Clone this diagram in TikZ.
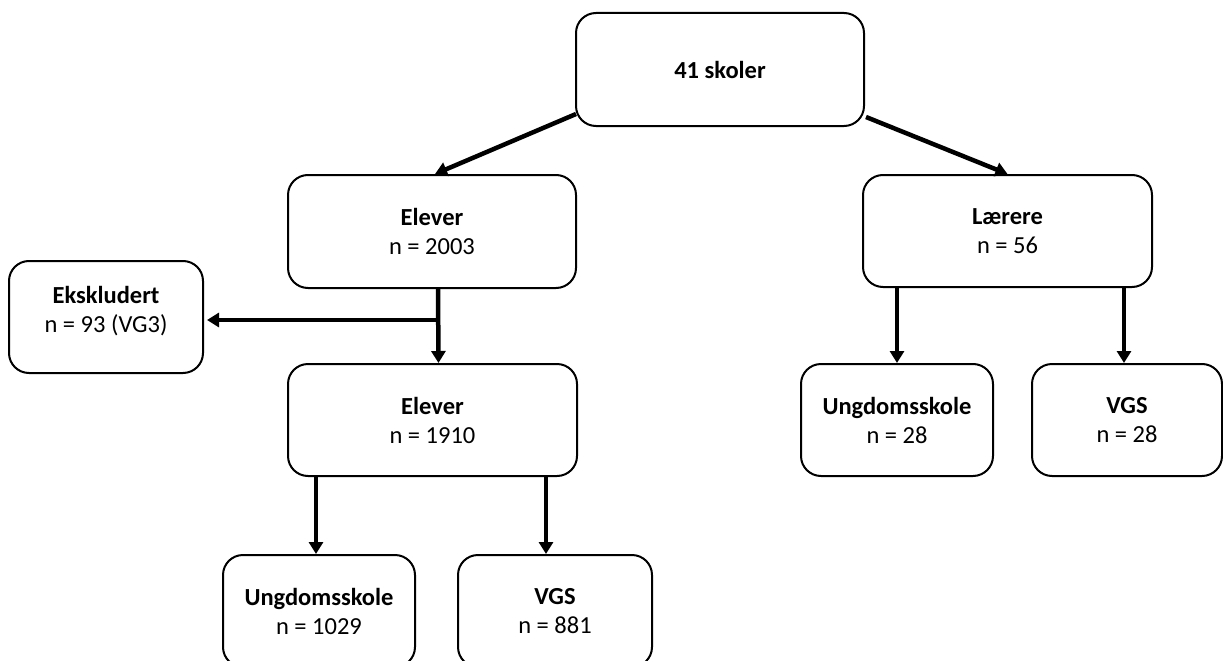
\documentclass[tikz,border=0pt]{standalone}
\usepackage{fontspec}
\setmainfont{Carlito}
\usetikzlibrary{arrows.meta,calc}
\begin{document}
\begin{tikzpicture}[x=1pt,y=-1pt,
  box/.style={draw, line width=2pt, rounded corners=20pt, align=center,
    font=\fontsize{24.5}{29}\selectfont, inner sep=0pt, fill=white},
  txt/.style={align=center, font=\fontsize{24.5}{29}\selectfont, inner sep=0pt},
  arr/.style={line width=4.5pt, -{Triangle[width=14pt,length=12pt]}}]
\useasboundingbox (0,0) rectangle (1223,661);
\node[box, minimum width=288pt, minimum height=113pt] (top) at (720,69.5) {\textbf{41 skoler}};
\node[box, minimum width=288pt, minimum height=113pt] (el1) at (432,231.5) {\textbf{Elever}\\n = 2003};
\node[box, minimum width=289pt, minimum height=112pt] (lar) at (1007.5,231) {\textbf{Lærere}\\n = 56};
\node[box, minimum width=194pt, minimum height=112pt] (ek) at (106,317) {};
\node[txt] (ektxt) at ($(ek)+(0,-6)$) {\textbf{Ekskludert}\\n = 93 (VG3)};
\node[box, minimum width=289pt, minimum height=112pt] (el2) at (432.5,420) {\textbf{Elever}\\n = 1910};
\node[box, minimum width=192pt, minimum height=112pt] (uR) at (897,420) {\textbf{Ungdomsskole}\\n = 28};
\node[box, minimum width=190pt, minimum height=112pt] (vR) at (1127,420) {\textbf{VGS}\\n = 28};
\node[box, minimum width=192pt, minimum height=112pt] (uL) at (319,611) {\textbf{Ungdomsskole}\\n = 1029};
\node[box, minimum width=194pt, minimum height=112pt] (vL) at (555,611) {\textbf{VGS}\\n = 881};

\draw[arr] ($(top.south west)+(1,-13)$) -- ($(el1.north)+(3,0)$);
\draw[arr] ($(top.south east)+(1,-10)$) -- (lar.north);
\coordinate (j) at ($(el1.south)+(6,31)$);
\draw[arr] ($(el1.south)+(6,0)$) -- ($(el2.north)+(6,0)$);
\draw[arr, shorten >=3pt] (j) -- (ek.east |- j);
\draw[arr] ($(el2.south west)+(29,0)$) coordinate (a1) -- (a1 |- uL.north);
\draw[arr] ($(el2.south west)+(259,0)$) coordinate (a2) -- (a2 |- vL.north);
\draw[arr] ($(lar.south west)+(35,0)$) coordinate (a3) -- (a3 |- uR.north);
\draw[arr] ($(lar.south west)+(262,0)$) coordinate (a4) -- (a4 |- vR.north);
\end{tikzpicture}
\end{document}
